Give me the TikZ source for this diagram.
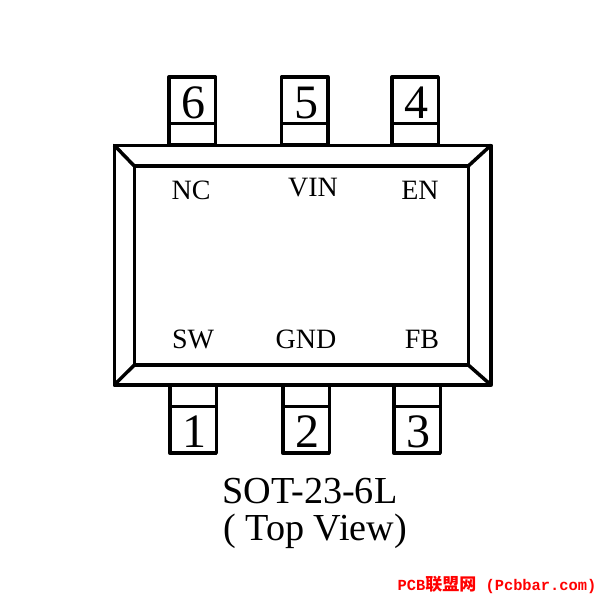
\documentclass[tikz,border=0pt]{standalone}
\usepackage{fontspec}
\setmainfont{Liberation Serif}
\newfontfamily\markfont{Liberation Mono}
\newfontfamily\cjkfont{Noto Sans CJK SC}
\usetikzlibrary{positioning}
\tikzstyle{outline} = [draw, rectangle, line width=3.5pt, outer sep=0pt, inner sep=0pt, line join=round]
\tikzstyle{pinbox} = [outline, minimum width=46.5pt, minimum height=46.5pt, text height=36pt, text depth=0pt, execute at begin node=\kern3pt, font=\fontsize{48}{48}\selectfont]
\tikzstyle{leadbox} = [outline, minimum width=46.5pt, minimum height=21pt]
\tikzstyle{pinname} = [inner sep=0pt, font=\fontsize{28}{28}\selectfont]
\tikzstyle{caption} = [inner sep=0pt, font=\fontsize{38.2}{38.2}\selectfont]
\tikzstyle{chamfer} = [line width=3.5pt, line cap=round]

\begin{document}
\begin{tikzpicture}[x=1pt, y=-1pt]
  \useasboundingbox (0,0) rectangle (600,600);

  % package body
  \node[outline, minimum width=376.7pt, minimum height=239.7pt] (body) at (302.6,265.1) {};
  \node[outline, minimum width=334pt, minimum height=199pt] (die) at (301.3,265.5) {};

  \draw[chamfer] (body.north west) -- (die.north west);
  \draw[chamfer] (body.north east) -- (die.north east);
  \draw[chamfer] (body.south west) -- (die.south west);
  \draw[chamfer] (body.south east) -- (die.south east);

  % top pins
  \node[pinbox] (pin6) at (192.2,100.3) {6};
  \node[pinbox] (pin5) at (304.7,100.3) {5};
  \node[pinbox] (pin4) at (415,100.3) {4};
  \node[leadbox, below=0pt of pin6] (lead6) {};
  \node[leadbox, below=0pt of pin5] (lead5) {};
  \node[leadbox, below=0pt of pin4] (lead4) {};

  % bottom pins
  \node[pinbox] (pin1) at (193,429.9) {1};
  \node[pinbox] (pin2) at (306,429.9) {2};
  \node[pinbox] (pin3) at (417,429.9) {3};
  \node[leadbox, above=0pt of pin1] (lead1) {};
  \node[leadbox, above=0pt of pin2] (lead2) {};
  \node[leadbox, above=0pt of pin3] (lead3) {};

  \node[pinname] (nc) at (191,190) {NC};
  \node[pinname] (vin) at (313,188) {VIN};
  \node[pinname] (en) at (420,190) {EN};
  \node[pinname] (sw) at (193,339) {SW};
  \node[pinname] (gnd) at (306,339) {GND};
  \node[pinname] (fb) at (422,339) {FB};

  \node[caption] (pkg) at (310,491) {SOT-23-6L};
  \node[caption] (view) at (315,531) {( Top View)};

  \node[inner sep=0pt, red] (mark) at (497,585) {\markfont\bfseries\fontsize{15.4}{16}\selectfont PCB{\cjkfont\fontsize{17}{17}\selectfont 联盟网} (Pcbbar.com)};
\end{tikzpicture}
\end{document}
